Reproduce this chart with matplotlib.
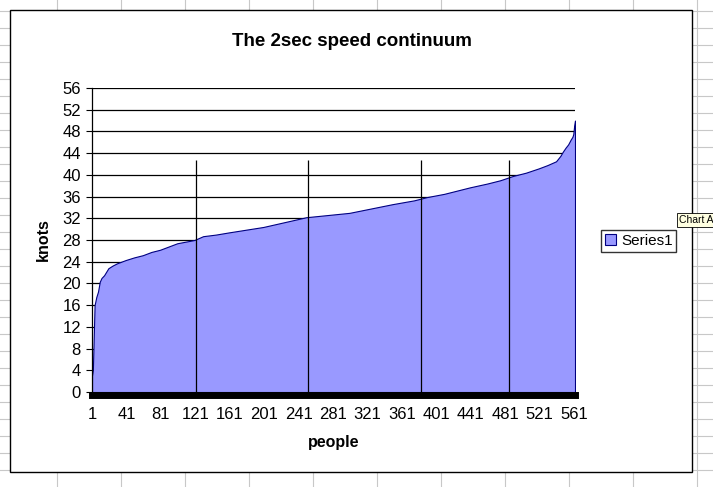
import matplotlib.pyplot as plt
from matplotlib.patches import Rectangle
from matplotlib.lines import Line2D

plt.rcParams['font.family'] = ['Liberation Sans', 'DejaVu Sans']

# sorted 2sec speeds (person index, knots)
people = [1, 2, 3, 4, 6, 8, 10, 12, 15, 20, 25, 30, 40, 50, 60, 70, 80, 90, 100,
          110, 120, 130, 145, 160, 180, 200, 225, 250, 275, 300, 325, 350, 375,
          390, 410, 420, 440, 460, 475, 490, 505, 520, 530, 540, 545, 548, 551,
          554, 557, 559, 560, 561, 562]
knots = [3, 4, 10, 16, 17.5, 18.5, 20.3, 21, 21.5, 22.8, 23.3, 23.7, 24.3, 24.8,
         25.2, 25.8, 26.2, 26.8, 27.4, 27.7, 28.0, 28.7, 29.0, 29.4, 29.9, 30.4,
         31.3, 32.2, 32.6, 33.0, 33.8, 34.6, 35.3, 35.9, 36.5, 36.9, 37.7, 38.4,
         39.0, 39.8, 40.4, 41.2, 41.8, 42.5, 43.5, 44.3, 45.0, 45.6, 46.5, 47.0,
         47.5, 49.0, 50.0]
markers = [122, 252, 383, 485]
marker_top = 42.7
xticks = list(range(1, 562, 40))
yticks = list(range(0, 57, 4))

fig = plt.figure(figsize=(7.13, 4.87), dpi=100)
W, H = 713, 487

# excel sheet grid behind the chart
for gx in range(-7, W, 64):
    fig.add_artist(Line2D([gx / W] * 2, [0, 1], color='#c8c8c8', lw=0.8, zorder=0))
for gy in range(11, H, 17):
    fig.add_artist(Line2D([0, 1], [1 - gy / H] * 2, color='#c8c8c8', lw=0.8, zorder=0))

# chart area
fig.add_artist(Rectangle((10 / W, 1 - 472 / H), 682 / W, 462 / H, transform=fig.transFigure,
                         facecolor='white', edgecolor='black', lw=1, zorder=1))

ax = fig.add_axes([92 / W, 1 - 392 / H, 483 / W, 304 / H], zorder=2)
ax.patch.set_alpha(0)
ax.fill_between(people, knots, 0, color='#9999ff', edgecolor='#000080', lw=0.8, zorder=2,
                label='Series1')
for y in yticks[1:]:
    ax.axhline(y, color='black', lw=0.9, zorder=1)
ax.vlines(markers, 0, marker_top, color='black', lw=0.9, zorder=3)
ax.axhline(-0.6, color='black', lw=5, zorder=4, clip_on=False)

ax.set_xlim(1, 562)
ax.set_ylim(0, 56)
ax.set_xticks(xticks)
ax.set_yticks(yticks)
ax.tick_params(axis='x', length=0, pad=11, labelsize=12)
ax.tick_params(axis='y', length=4, direction='out', labelsize=12, pad=4)
for s in ['top', 'right', 'bottom']:
    ax.spines[s].set_visible(False)
ax.spines['left'].set_linewidth(0.9)

ax.set_xlabel('people', fontweight='bold', fontsize=11.5, labelpad=9)
ax.set_ylabel('knots', fontweight='bold', fontsize=11.5, labelpad=8)
fig.text(352 / W, 1 - 42 / H, 'The 2sec speed continuum', ha='center', va='center',
         fontweight='bold', fontsize=13.5)

fig.legend(loc='center left', bbox_to_anchor=(601 / W, 1 - 241 / H), frameon=True,
           fancybox=False, edgecolor='black', fontsize=11, handlelength=0.75,
           handleheight=0.75, borderpad=0.25, handletextpad=0.3, borderaxespad=0)

# excel tooltip
fig.text(679 / W, 1 - 220 / H, 'Chart Area', fontsize=7.5, va='center', zorder=5,
         bbox=dict(facecolor='#ffffe1', edgecolor='black', lw=0.6, pad=1.5))

fig.savefig('out.png', dpi=100)
